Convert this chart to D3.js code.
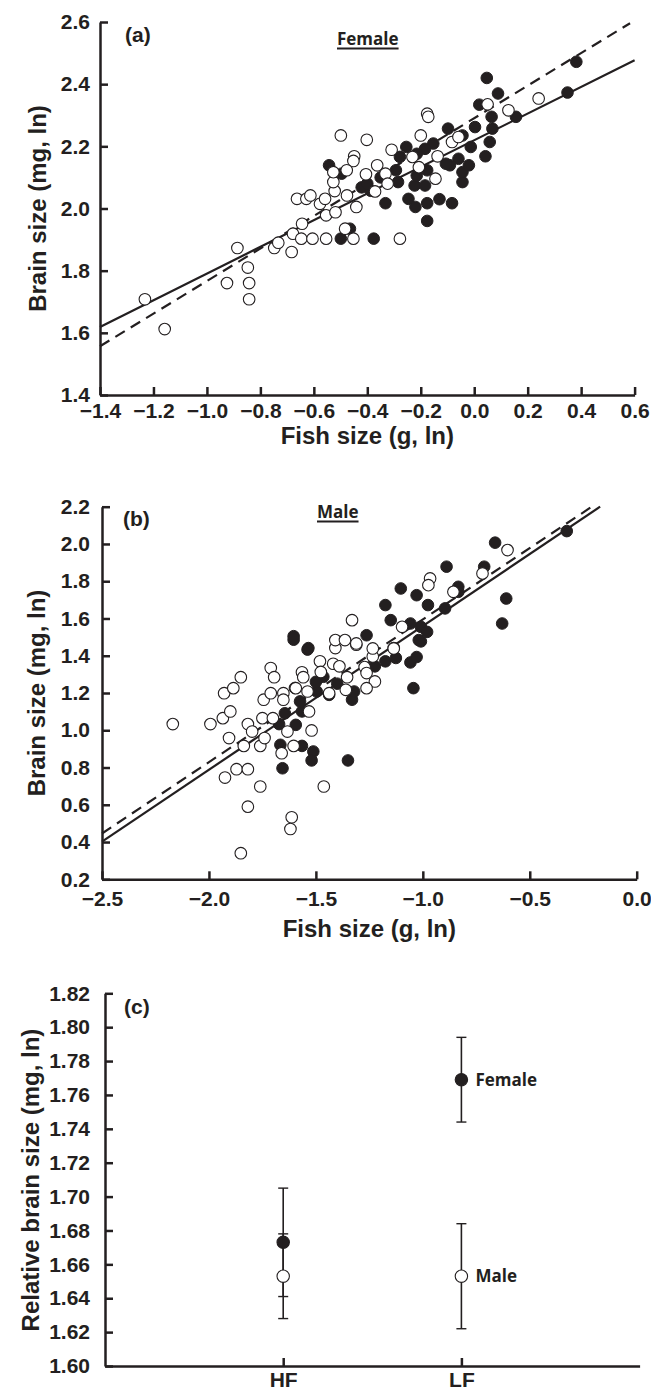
<!DOCTYPE html>
<html>
<head>
<meta charset="utf-8">
<script src="https://cdn.jsdelivr.net/npm/d3@7"></script>
<style>
  body { margin: 0; background: #fff; }
  text { font-family: "Liberation Sans", Arial, sans-serif; font-weight: bold; fill: #231f20; }
  .lbl { font-family: "Open Sans", sans-serif; font-weight: 700; }
</style>
</head>
<body>
<svg id="chart" width="651" height="1393"></svg>
<script>
// ---- panel (a): female, brain size vs fish size (ln) ----
const aFilled = [
  [-0.499,1.903],[-0.465,1.935],[-0.376,1.903],[-0.332,2.017],[-0.246,2.031],[-0.220,2.005],
  [-0.176,2.017],[-0.176,1.960],[-0.130,2.030],[-0.083,2.017],[-0.044,2.085],[-0.421,2.068],
  [-0.387,2.057],[-0.285,2.085],[-0.223,2.074],[-0.184,2.074],[0.047,2.420],[0.382,2.472],
  [0.349,2.373],[0.156,2.295],[0.019,2.334],[0.065,2.295],[0.068,2.257],[0.003,2.262],
  [0.058,2.214],[0.042,2.168],[-0.013,2.198],[-0.098,2.257],[-0.044,2.235],[-0.059,2.160],
  [-0.091,2.139],[-0.044,2.117],[-0.020,2.139],[-0.153,2.209],[-0.184,2.192],[-0.215,2.176],
  [-0.254,2.198],[-0.278,2.166],[-0.215,2.106],[-0.176,2.123],[-0.106,2.144],[-0.293,2.123],
  [-0.543,2.139],[-0.496,2.112],[0.089,2.370],[-0.400,2.080],[-0.350,2.100]
];
const aOpen = [
  [-1.232,1.708],[-1.158,1.612],[-0.925,1.760],[-0.886,1.873],[-0.847,1.810],[-0.842,1.760],
  [-0.842,1.708],[-0.748,1.873],[-0.733,1.890],[-0.683,1.860],[-0.678,1.919],[-0.644,1.951],
  [-0.647,1.903],[-0.605,1.903],[-0.554,1.903],[-0.554,1.978],[-0.519,1.988],[-0.663,2.031],
  [-0.628,2.031],[-0.613,2.042],[-0.577,2.015],[-0.558,2.031],[-0.522,2.056],[-0.476,2.042],
  [-0.441,2.005],[-0.483,1.935],[-0.452,1.903],[-0.278,1.903],[-0.371,2.055],[-0.527,2.085],
  [-0.499,2.235],[-0.402,2.221],[-0.176,2.305],[-0.172,2.295],[0.241,2.354],[0.128,2.316],
  [0.050,2.335],[-0.200,2.235],[-0.083,2.214],[-0.059,2.230],[-0.309,2.189],[-0.449,2.168],
  [-0.452,2.153],[-0.477,2.123],[-0.527,2.117],[-0.405,2.110],[-0.363,2.139],[-0.332,2.112],
  [-0.231,2.166],[-0.207,2.133],[-0.137,2.168],[-0.145,2.096],[-0.324,2.080]
];
const aSolidLine = [[-1.4,1.619],[0.6,2.477]];
const aDashedLine = [[-1.4,1.557],[0.583,2.596]];
const aXTicks = [-1.4,-1.2,-1.0,-0.8,-0.6,-0.4,-0.2,0.0,0.2,0.4,0.6];
const aYTicks = [1.4,1.6,1.8,2.0,2.2,2.4,2.6];

// ---- panel (b): male ----
const bFilled = [
  [-1.656,0.796],[-1.666,0.922],[-1.672,1.033],[-1.594,1.029],[-1.565,0.916],[-1.512,0.886],
  [-1.520,0.838],[-1.350,0.838],[-1.044,1.226],[-1.058,1.364],[-1.029,1.393],[-1.009,1.477],
  [-1.535,1.441],[-1.604,1.486],[-1.574,1.155],[-1.565,1.101],[-1.496,1.208],[-1.438,1.190],
  [-1.331,1.164],[-1.321,1.208],[-1.224,1.343],[-1.175,1.370],[-1.126,1.388],
  [-0.327,2.069],[-0.662,2.007],[-0.610,1.707],[-0.629,1.573],[-0.713,1.878],[-0.889,1.878],
  [-0.834,1.770],[-1.103,1.761],[-1.029,1.725],[-1.175,1.672],[-0.976,1.672],[-0.896,1.654],
  [-1.150,1.591],[-1.058,1.573],[-1.009,1.555],[-0.980,1.528],[-1.604,1.505],[-1.539,1.433],
  [-1.263,1.510],[-1.019,1.484],[-0.834,1.743],
  [-1.598,1.227],[-1.465,1.287],[-1.645,1.091],[-1.500,1.260],[-1.400,1.250]
];
const bOpen = [
  [-2.169,1.033],[-1.993,1.033],[-1.929,1.199],[-1.935,1.065],[-1.900,1.101],[-1.886,1.226],
  [-1.851,1.285],[-1.906,0.958],[-1.925,0.746],[-1.871,0.791],[-1.818,0.791],[-1.851,0.340],
  [-1.818,0.590],[-1.818,1.033],[-1.798,0.993],[-1.837,0.916],[-1.760,0.698],[-1.760,0.916],
  [-1.750,1.065],[-1.740,0.958],[-1.744,1.164],[-1.711,1.334],[-1.695,1.285],[-1.711,1.199],
  [-1.701,1.065],[-1.652,1.199],[-1.660,0.877],[-1.633,0.993],[-1.613,0.533],[-1.619,0.470],
  [-1.604,0.916],[-1.652,1.164],[-1.594,1.226],[-1.565,1.311],[-1.559,1.285],[-1.532,1.101],
  [-1.520,0.999],[-1.463,0.698],[-1.481,1.370],[-1.477,1.313],[-1.438,1.199],[-1.419,1.357],
  [-1.409,1.441],[-1.390,1.343],[-1.354,1.285],[-1.360,1.217],[-1.311,1.459],[-1.272,1.339],
  [-1.263,1.307],[-1.234,1.396],[-1.224,1.262],[-1.263,1.226],[-1.136,1.441],[-1.539,1.208],
  [-0.604,1.967],[-0.721,1.842],[-0.966,1.815],[-0.974,1.779],[-0.857,1.743],[-1.331,1.591],
  [-1.097,1.555],[-1.409,1.484],[-1.364,1.484],[-1.311,1.466],[-1.234,1.439],[-1.136,1.439]
];
const bSolidLine = [[-2.5,0.402],[-0.171,2.2]];
const bDashedLine = [[-2.5,0.446],[-0.21,2.2]];
const bXTicks = [-2.5,-2.0,-1.5,-1.0,-0.5,0.0];
const bYTicks = [0.2,0.4,0.6,0.8,1.0,1.2,1.4,1.6,1.8,2.0,2.2];

// ---- panel (c): relative brain size by population ----
const groups = ["HF","LF"];
const femaleMean = [1.673, 1.769];
const femaleLow  = [1.641, 1.744];
const femaleHigh = [1.705, 1.794];
const maleMean = [1.653, 1.653];
const maleLow  = [1.628, 1.622];
const maleHigh = [1.678, 1.684];
const cYTicks = [1.60,1.62,1.64,1.66,1.68,1.70,1.72,1.74,1.76,1.78,1.80,1.82];

const ink = "#231f20";
const svg = d3.select("#chart");

function styleAxis(g) {
  g.select(".domain").attr("stroke", ink).attr("stroke-width", 2.5);
  g.selectAll(".tick line").attr("stroke", ink).attr("stroke-width", 2.5);
  g.selectAll(".tick text").attr("font-size", 21).attr("fill", ink)
    .attr("font-family", "Liberation Sans, Arial, sans-serif").attr("font-weight", "bold");
}

function scatterPanel(p) {
  const x = d3.scaleLinear().domain(p.xDomain).range(p.xRange);
  const y = d3.scaleLinear().domain(p.yDomain).range(p.yRange);
  const g = svg.append("g");

  g.append("g")
    .attr("transform", `translate(0,${p.yRange[0]})`)
    .call(d3.axisBottom(x).tickValues(p.xTicks).tickFormat(d3.format(".1f"))
      .tickSizeInner(-8).tickSizeOuter(0).tickPadding(p.xPad))
    .call(styleAxis);

  g.append("g")
    .attr("transform", `translate(${p.xRange[0]},0)`)
    .call(d3.axisLeft(y).tickValues(p.yTicks).tickFormat(d3.format(".1f"))
      .tickSizeInner(-8).tickSizeOuter(0).tickPadding(p.yPad))
    .call(styleAxis);

  const line = d3.line().x(d => x(d[0])).y(d => y(d[1]));
  g.append("path").datum(p.solid).attr("d", line)
    .attr("stroke", ink).attr("stroke-width", 2.2).attr("fill", "none");
  g.append("path").datum(p.dashed).attr("d", line)
    .attr("stroke", ink).attr("stroke-width", 2.2).attr("fill", "none")
    .attr("stroke-dasharray", "11,7");

  g.append("g").selectAll("circle").data(p.filled).enter().append("circle")
    .attr("cx", d => x(d[0])).attr("cy", d => y(d[1])).attr("r", 5.8)
    .attr("fill", ink).attr("stroke", ink).attr("stroke-width", 1);
  g.append("g").selectAll("circle").data(p.open).enter().append("circle")
    .attr("cx", d => x(d[0])).attr("cy", d => y(d[1])).attr("r", 5.8)
    .attr("fill", "#fff").attr("stroke", ink).attr("stroke-width", 1.1);

  // panel letter
  g.append("text").attr("x", p.letterPos[0]).attr("y", p.letterPos[1])
    .attr("font-size", 21).text(p.letter);

  // underlined sex title
  const t = g.append("text").attr("class", "lbl")
    .attr("x", p.titlePos[0]).attr("y", p.titlePos[1])
    .attr("font-size", 17).text(p.title);
  const w = t.node().getComputedTextLength();
  g.append("line").attr("x1", p.titlePos[0]).attr("x2", p.titlePos[0] + w)
    .attr("y1", p.titlePos[1] + 3.5).attr("y2", p.titlePos[1] + 3.5)
    .attr("stroke", ink).attr("stroke-width", 1.8);

  // axis titles
  g.append("text").attr("x", (p.xRange[0] + p.xRange[1]) / 2).attr("y", p.xTitleY)
    .attr("text-anchor", "middle").attr("font-size", 24).text("Fish size (g, ln)");
  g.append("text")
    .attr("transform", `translate(${p.yTitleX},${(p.yRange[0] + p.yRange[1]) / 2}) rotate(-90)`)
    .attr("text-anchor", "middle").attr("font-size", 24).text("Brain size (mg, ln)");
}

scatterPanel({
  xDomain: [-1.4, 0.6], xRange: [100, 634.6],
  yDomain: [1.4, 2.6], yRange: [395, 22],
  xTicks: aXTicks, yTicks: aYTicks, xPad: 8, yPad: 10,
  filled: aFilled, open: aOpen, solid: aSolidLine, dashed: aDashedLine,
  letter: "(a)", letterPos: [125, 42], title: "Female", titlePos: [337, 45],
  xTitleY: 444, yTitleX: 46
});

scatterPanel({
  xDomain: [-2.5, 0.0], xRange: [102, 636.7],
  yDomain: [0.2, 2.2], yRange: [879.3, 506.7],
  xTicks: bXTicks, yTicks: bYTicks, xPad: 12, yPad: 12,
  filled: bFilled, open: bOpen, solid: bSolidLine, dashed: bDashedLine,
  letter: "(b)", letterPos: [123, 526], title: "Male", titlePos: [317, 518],
  xTitleY: 937, yTitleX: 45
});

// ---- panel (c) ----
const cx = d3.scalePoint().domain(groups).range([105, 639.6]).padding(1);
const cy = d3.scaleLinear().domain([1.60, 1.82]).range([1366, 993.3]);
const gc = svg.append("g");

gc.append("g").attr("transform", "translate(0,1366)")
  .call(d3.axisBottom(cx).tickSizeInner(-8).tickSizeOuter(0).tickPadding(6))
  .call(styleAxis);
gc.append("g").attr("transform", "translate(105,0)")
  .call(d3.axisLeft(cy).tickValues(cYTicks).tickFormat(d3.format(".2f"))
    .tickSizeInner(-8).tickSizeOuter(0).tickPadding(15))
  .call(styleAxis);

function errorSeries(mean, low, high, fill, label) {
  const rows = groups.map((g, i) => ({ g, m: mean[i], lo: low[i], hi: high[i] }));
  const s = gc.append("g");
  rows.forEach(r => {
    const px = cx(r.g);
    s.append("line").attr("x1", px).attr("x2", px).attr("y1", cy(r.lo)).attr("y2", cy(r.hi))
      .attr("stroke", ink).attr("stroke-width", 1.6);
    [r.lo, r.hi].forEach(v => {
      s.append("line").attr("x1", px - 5).attr("x2", px + 5).attr("y1", cy(v)).attr("y2", cy(v))
        .attr("stroke", ink).attr("stroke-width", 1.4);
    });
  });
  s.selectAll("circle").data(rows).enter().append("circle")
    .attr("cx", d => cx(d.g)).attr("cy", d => cy(d.m)).attr("r", 6.2)
    .attr("fill", fill).attr("stroke", ink).attr("stroke-width", 1.1);
  const last = rows[rows.length - 1];
  s.append("text").attr("class", "lbl").attr("x", cx(last.g) + 14).attr("y", cy(last.m))
    .attr("dy", "0.35em").attr("font-size", 17).text(label);
}
errorSeries(femaleMean, femaleLow, femaleHigh, ink, "Female");
errorSeries(maleMean, maleLow, maleHigh, "#fff", "Male");

gc.append("text").attr("x", 124).attr("y", 1014).attr("font-size", 21).text("(c)");
gc.append("text").attr("transform", "translate(39,1180) rotate(-90)")
  .attr("text-anchor", "middle").attr("font-size", 24).text("Relative brain size (mg, ln)");
</script>
</body>
</html>
